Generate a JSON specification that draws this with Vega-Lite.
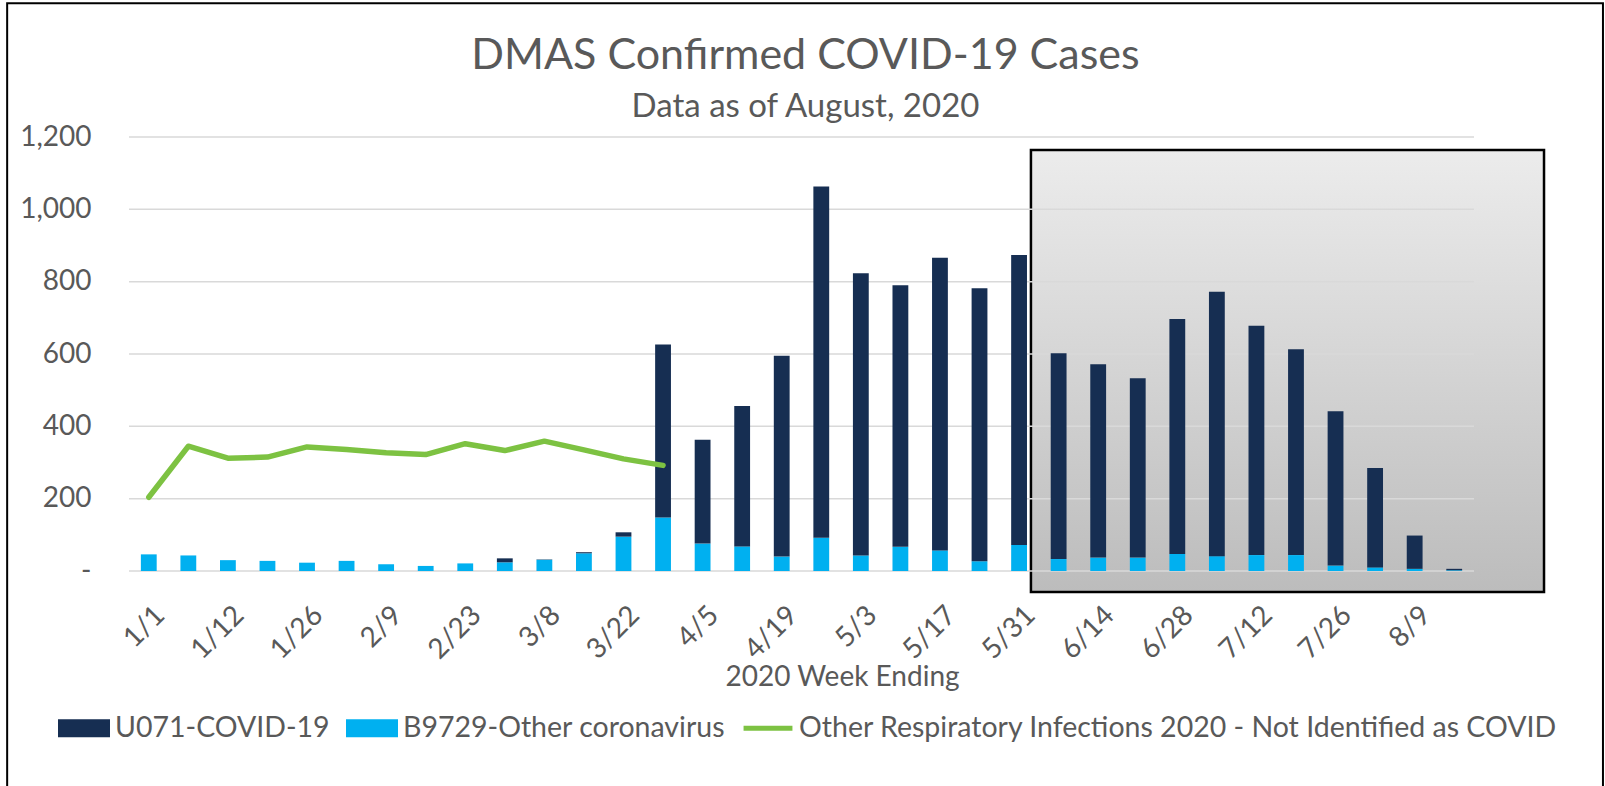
{
  "$schema": "https://vega.github.io/schema/vega-lite/v6.json",
  "autosize": {"type": "none"},
  "width": 1345,
  "height": 434,
  "padding": {"left": 129, "top": 137, "right": 131, "bottom": 215},
  "background": "white",
  "config": {"view": {"stroke": null}, "font": "Lato"},
  "title": {
    "text": "DMAS Confirmed COVID-19 Cases",
    "subtitle": "Data as of August, 2020",
    "font": "Lato", "fontSize": 43, "fontWeight": "normal", "color": "#595959",
    "subtitleFont": "Lato", "subtitleFontSize": 33, "subtitleColor": "#595959",
    "subtitlePadding": 13, "offset": 0, "dy": 122, "anchor": "middle", "frame": "group", "dx": 4
  },
  "datasets": {
    "frame": [{"start": -3.08, "end": 37.26, "low": -640, "high": 1570}],
    "box": [{"start": 22.8, "end": 35.77, "low": -58, "high": 1164}],
    "grid": [{"v": 0}, {"v": 200}, {"v": 400}, {"v": 600}, {"v": 800}, {"v": 1000}, {"v": 1200}],
    "bars": [
      {"week": "1/1", "series": "B9729-Other coronavirus", "cases": 46}, {"week": "1/1", "series": "U071-COVID-19", "cases": 0},
      {"week": "1/5", "series": "B9729-Other coronavirus", "cases": 43}, {"week": "1/5", "series": "U071-COVID-19", "cases": 0},
      {"week": "1/12", "series": "B9729-Other coronavirus", "cases": 30}, {"week": "1/12", "series": "U071-COVID-19", "cases": 0},
      {"week": "1/19", "series": "B9729-Other coronavirus", "cases": 28}, {"week": "1/19", "series": "U071-COVID-19", "cases": 0},
      {"week": "1/26", "series": "B9729-Other coronavirus", "cases": 23}, {"week": "1/26", "series": "U071-COVID-19", "cases": 0},
      {"week": "2/2", "series": "B9729-Other coronavirus", "cases": 28}, {"week": "2/2", "series": "U071-COVID-19", "cases": 0},
      {"week": "2/9", "series": "B9729-Other coronavirus", "cases": 19}, {"week": "2/9", "series": "U071-COVID-19", "cases": 0},
      {"week": "2/16", "series": "B9729-Other coronavirus", "cases": 14}, {"week": "2/16", "series": "U071-COVID-19", "cases": 0},
      {"week": "2/23", "series": "B9729-Other coronavirus", "cases": 21}, {"week": "2/23", "series": "U071-COVID-19", "cases": 0},
      {"week": "3/1", "series": "B9729-Other coronavirus", "cases": 24}, {"week": "3/1", "series": "U071-COVID-19", "cases": 11},
      {"week": "3/8", "series": "B9729-Other coronavirus", "cases": 31}, {"week": "3/8", "series": "U071-COVID-19", "cases": 1},
      {"week": "3/15", "series": "B9729-Other coronavirus", "cases": 49}, {"week": "3/15", "series": "U071-COVID-19", "cases": 3},
      {"week": "3/22", "series": "B9729-Other coronavirus", "cases": 95}, {"week": "3/22", "series": "U071-COVID-19", "cases": 12},
      {"week": "3/29", "series": "B9729-Other coronavirus", "cases": 148}, {"week": "3/29", "series": "U071-COVID-19", "cases": 478},
      {"week": "4/5", "series": "B9729-Other coronavirus", "cases": 76}, {"week": "4/5", "series": "U071-COVID-19", "cases": 287},
      {"week": "4/12", "series": "B9729-Other coronavirus", "cases": 68}, {"week": "4/12", "series": "U071-COVID-19", "cases": 388},
      {"week": "4/19", "series": "B9729-Other coronavirus", "cases": 40}, {"week": "4/19", "series": "U071-COVID-19", "cases": 555},
      {"week": "4/26", "series": "B9729-Other coronavirus", "cases": 92}, {"week": "4/26", "series": "U071-COVID-19", "cases": 971},
      {"week": "5/3", "series": "B9729-Other coronavirus", "cases": 43}, {"week": "5/3", "series": "U071-COVID-19", "cases": 780},
      {"week": "5/10", "series": "B9729-Other coronavirus", "cases": 67}, {"week": "5/10", "series": "U071-COVID-19", "cases": 723},
      {"week": "5/17", "series": "B9729-Other coronavirus", "cases": 57}, {"week": "5/17", "series": "U071-COVID-19", "cases": 809},
      {"week": "5/24", "series": "B9729-Other coronavirus", "cases": 27}, {"week": "5/24", "series": "U071-COVID-19", "cases": 755},
      {"week": "5/31", "series": "B9729-Other coronavirus", "cases": 72}, {"week": "5/31", "series": "U071-COVID-19", "cases": 802},
      {"week": "6/7", "series": "B9729-Other coronavirus", "cases": 33}, {"week": "6/7", "series": "U071-COVID-19", "cases": 569},
      {"week": "6/14", "series": "B9729-Other coronavirus", "cases": 37}, {"week": "6/14", "series": "U071-COVID-19", "cases": 535},
      {"week": "6/21", "series": "B9729-Other coronavirus", "cases": 37}, {"week": "6/21", "series": "U071-COVID-19", "cases": 496},
      {"week": "6/28", "series": "B9729-Other coronavirus", "cases": 47}, {"week": "6/28", "series": "U071-COVID-19", "cases": 650},
      {"week": "7/5", "series": "B9729-Other coronavirus", "cases": 41}, {"week": "7/5", "series": "U071-COVID-19", "cases": 731},
      {"week": "7/12", "series": "B9729-Other coronavirus", "cases": 44}, {"week": "7/12", "series": "U071-COVID-19", "cases": 634},
      {"week": "7/19", "series": "B9729-Other coronavirus", "cases": 44}, {"week": "7/19", "series": "U071-COVID-19", "cases": 569},
      {"week": "7/26", "series": "B9729-Other coronavirus", "cases": 15}, {"week": "7/26", "series": "U071-COVID-19", "cases": 427},
      {"week": "8/2", "series": "B9729-Other coronavirus", "cases": 10}, {"week": "8/2", "series": "U071-COVID-19", "cases": 275},
      {"week": "8/9", "series": "B9729-Other coronavirus", "cases": 6}, {"week": "8/9", "series": "U071-COVID-19", "cases": 92},
      {"week": "8/16", "series": "B9729-Other coronavirus", "cases": 2}, {"week": "8/16", "series": "U071-COVID-19", "cases": 4}
    ],
    "resp": [
      {"week": "1/1", "cases": 204}, {"week": "1/5", "cases": 345}, {"week": "1/12", "cases": 312},
      {"week": "1/19", "cases": 315}, {"week": "1/26", "cases": 343}, {"week": "2/2", "cases": 336},
      {"week": "2/9", "cases": 327}, {"week": "2/16", "cases": 322}, {"week": "2/23", "cases": 352},
      {"week": "3/1", "cases": 333}, {"week": "3/8", "cases": 359}, {"week": "3/15", "cases": 335},
      {"week": "3/22", "cases": 310}, {"week": "3/29", "cases": 292}
    ]
  },
  "layer": [
    {
      "data": {"name": "frame"},
      "mark": {"type": "rect", "fill": null, "fillOpacity": 0, "stroke": "#000000", "strokeWidth": 2},
      "encoding": {
        "x": {"field": "start", "type": "quantitative", "scale": {"domain": [0, 34], "nice": false, "zero": false}, "axis": null},
        "x2": {"field": "end"},
        "y": {"field": "low", "type": "quantitative", "scale": {"domain": [0, 1200], "nice": false}},
        "y2": {"field": "high"}
      }
    },
    {
      "data": {"name": "box"},
      "mark": {
        "type": "rect", "stroke": "#000000", "strokeWidth": 2.5,
        "fill": {"gradient": "linear", "x1": 0, "y1": 0, "x2": 0, "y2": 1,
          "stops": [{"offset": 0, "color": "#ececec"}, {"offset": 1, "color": "#bcbcbc"}]}
      },
      "encoding": {
        "x": {"field": "start", "type": "quantitative", "scale": {"domain": [0, 34], "nice": false, "zero": false}, "axis": null},
        "x2": {"field": "end"},
        "y": {"field": "low", "type": "quantitative", "scale": {"domain": [0, 1200], "nice": false}},
        "y2": {"field": "high"}
      }
    },
    {
      "layer": [
        {
          "data": {"name": "grid"},
          "mark": {"type": "rule", "color": "#d9d9d9", "strokeWidth": 1.5},
          "encoding": {
            "y": {"field": "v", "type": "quantitative", "scale": {"domain": [0, 1200], "nice": false}}
          }
        },
        {
          "data": {"name": "bars"},
          "mark": {"type": "bar"},
          "encoding": {
            "x": {
              "field": "week", "type": "nominal", "sort": null,
              "scale": {"domain": ["1/1","1/5","1/12","1/19","1/26","2/2","2/9","2/16","2/23","3/1","3/8","3/15","3/22","3/29","4/5","4/12","4/19","4/26","5/3","5/10","5/17","5/24","5/31","6/7","6/14","6/21","6/28","7/5","7/12","7/19","7/26","8/2","8/9","8/16"],
                "paddingInner": 0.6, "paddingOuter": 0.3},
              "axis": {
                "values": ["1/1","1/12","1/26","2/9","2/23","3/8","3/22","4/5","4/19","5/3","5/17","5/31","6/14","6/28","7/12","7/26","8/9"],
                "labelAngle": -45, "labelFont": "Lato", "labelFontSize": 28, "labelColor": "#595959",
                "labelPadding": 30, "labelOffset": 2, "ticks": false, "domain": false, "grid": false,
                "title": "2020 Week Ending", "titleFont": "Lato", "titleFontSize": 28, "titleFontWeight": "normal",
                "titleColor": "#595959", "titleX": 713, "titleY": 114, "titleBaseline": "alphabetic", "titleAlign": "center"
              }
            },
            "y": {
              "field": "cases", "type": "quantitative", "stack": "zero",
              "scale": {"domain": [0, 1200], "nice": false},
              "axis": {
                "values": [0, 200, 400, 600, 800, 1000, 1200],
                "labelExpr": "datum.value === 0 ? '-\u00a0\u00a0\u00a0' : format(datum.value, ',')",
                "labelFont": "Lato", "labelFontSize": 28, "labelColor": "#595959", "labelPadding": 38,
                "ticks": false, "domain": false, "grid": false, "title": null
              }
            },
            "color": {
              "field": "series", "type": "nominal",
              "scale": {
                "domain": ["U071-COVID-19", "B9729-Other coronavirus", "Other Respiratory Infections 2020 - Not Identified as COVID"],
                "range": ["#162e52", "#00b0f0", "#7dc242"]
              },
              "legend": {
                "orient": "none", "legendX": -71, "legendY": 565, "direction": "horizontal", "title": null,
                "symbolSize": 2704, "symbolStrokeWidth": 0, "labelFont": "Lato", "labelFontSize": 28.5, "labelColor": "#595959",
                "labelLimit": 2000, "labelOffset": 5, "columnPadding": 16,
                "encode": {
                  "symbols": {
                    "update": {
                      "shape": {"signal": "datum.value === 'Other Respiratory Infections 2020 - Not Identified as COVID' ? 'M-0.94,-0.1H0.94V0.1H-0.94Z' : 'M-1,-0.346H1V0.346H-1Z'"},
                      "fill": {"signal": "scale('color', datum.value)"},
                      "stroke": {"value": "transparent"},
                      "opacity": {"value": 1},
                      "fillOpacity": {"value": 1}
                    }
                  }
                }
              }
            },
            "order": {"field": "series", "sort": "ascending"}
          }
        },
        {
          "data": {"name": "resp"},
          "mark": {"type": "line", "strokeWidth": 5.5, "strokeCap": "round", "strokeJoin": "round"},
          "encoding": {
            "x": {"field": "week", "type": "nominal", "sort": null},
            "y": {"field": "cases", "type": "quantitative", "scale": {"domain": [0, 1200], "nice": false}},
            "color": {"datum": "Other Respiratory Infections 2020 - Not Identified as COVID"}
          }
        }
      ]
    }
  ],
  "resolve": {"scale": {"x": "independent"}}
}
